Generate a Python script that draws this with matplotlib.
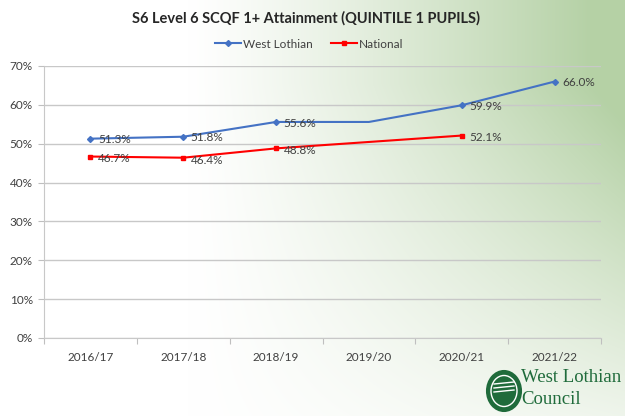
import matplotlib.pyplot as plt
import matplotlib.patches as mpatches
import numpy as np

plt.rcParams['font.family'] = ['Lato', 'DejaVu Sans']

years = ['2016/17', '2017/18', '2018/19', '2019/20', '2020/21', '2021/22']
west_lothian = [51.3, 51.8, 55.6, 55.6, 59.9, 66.0]
west_lothian_labels = ['51.3%', '51.8%', '55.6%', '', '59.9%', '66.0%']
national = [46.7, 46.4, 48.8, np.nan, 52.1, np.nan]
national_labels = ['46.7%', '46.4%', '48.8%', '', '52.1%', '']

fig = plt.figure(figsize=(6.25, 4.16), dpi=100)

# background: white fading to pale green towards the top right
bg = fig.add_axes([0, 0, 1, 1], zorder=-10)
h, w = 416, 625
xx, yy = np.meshgrid(np.linspace(0, 1, w), np.linspace(0, 1, h))
weight = np.clip((xx - 0.3) / 0.7, 0, 1) ** 1.2 * np.clip(1.2 - yy * 1.0, 0, 1)
weight = np.clip(weight * 1.1, 0, 1)
white = np.array([1.0, 1.0, 1.0])
green = np.array([0.71, 0.82, 0.65])
img = white * (1 - weight[..., None]) + green * weight[..., None]
bg.imshow(img, aspect='auto', extent=[0, 1, 0, 1], origin='upper')
bg.set_axis_off()

ax = fig.add_axes([44 / w, 1 - 338 / h, 557 / w, 272 / h])
ax.patch.set_alpha(0)

x = np.arange(len(years))
ax.plot(x, west_lothian, color='#4472C4', lw=1.5, zorder=3)
ax.plot(x[[0, 1, 2, 4, 5]], np.array(west_lothian)[[0, 1, 2, 4, 5]], ls='none',
        marker='D', ms=3, color='#4472C4', zorder=4)
nat = np.array(national)
mask = ~np.isnan(nat)
ax.plot(x[mask], nat[mask], color='#FF0000', lw=1.5, marker='s', ms=3.5, zorder=3)

for xi, v, lab in zip(x, west_lothian, west_lothian_labels):
    if lab:
        ax.text(xi + 0.08, v - 0.3, lab, fontsize=8.5, color='#404040', va='center', ha='left', zorder=5)
for xi, v, lab in zip(x, national, national_labels):
    if lab:
        ax.text(xi + 0.08, v - 0.6, lab, fontsize=8.5, color='#404040', va='center', ha='left', zorder=5)

ax.set_xlim(-0.5, 5.5)
ax.set_ylim(0, 70)
ax.set_yticks(range(0, 71, 10))
ax.set_yticklabels([f'{v}%' for v in range(0, 71, 10)], fontsize=8.5, color='#404040')
ax.set_xticks(np.arange(-0.5, 5.6, 1), minor=False)
ax.set_xticklabels([])
ax.set_xticks(x, minor=True)
ax.set_xticklabels(years, minor=True, fontsize=8.5, color='#404040')
ax.tick_params(axis='x', which='minor', length=0, pad=10)
ax.tick_params(axis='x', which='major', length=4, color='#bfbfbf', direction='out')
ax.tick_params(axis='y', length=4, color='#bfbfbf', pad=4)
ax.grid(axis='y', color='#c8c8c8', lw=1)
ax.set_axisbelow(True)
for s in ['top', 'right']:
    ax.spines[s].set_visible(False)
ax.spines['left'].set_color('#c8c8c8')
ax.spines['bottom'].set_color('#c8c8c8')

fig.text(0.49, 1 - 18 / h, 'S6 Level 6 SCQF 1+ Attainment (QUINTILE 1 PUPILS)',
         ha='center', va='center', fontsize=10.5, fontweight='bold', color='#262626')

handles = [plt.Line2D([], [], color='#4472C4', lw=1.5, marker='D', ms=3),
           plt.Line2D([], [], color='#FF0000', lw=1.5, marker='s', ms=3.5)]
fig.legend(handles, ['West Lothian', 'National'], loc='center', bbox_to_anchor=(0.495, 1 - 44 / h),
           ncol=2, frameon=False, fontsize=8.5, handlelength=2.2, handletextpad=0.2,
           columnspacing=1.5, labelcolor='#404040')

# council logo
logo_green = '#1f6b3b'
circ = mpatches.Ellipse((504 / w, 1 - 391 / h), 34 / w, 40 / h, transform=fig.transFigure,
                        facecolor=logo_green, edgecolor=logo_green, lw=1.5)
fig.patches.append(circ)
inner = mpatches.Ellipse((504 / w, 1 - 391 / h), 26 / w, 31 / h, transform=fig.transFigure,
                         facecolor='none', edgecolor='white', lw=1)
fig.patches.append(inner)
for dy in (-4, 0, 4):
    fig.lines.append(plt.Line2D([494 / w, 514 / w], [1 - (388 + dy) / h, 1 - (386 + dy) / h],
                                transform=fig.transFigure, color='white', lw=1))
fig.text(521 / w, 1 - 378 / h, 'West Lothian', fontsize=13.5, family='Liberation Serif',
         color=logo_green, va='center', ha='left')
fig.text(521 / w, 1 - 400 / h, 'Council', fontsize=13.5, family='Liberation Serif',
         color=logo_green, va='center', ha='left')

fig.savefig('out.png', dpi=100)
